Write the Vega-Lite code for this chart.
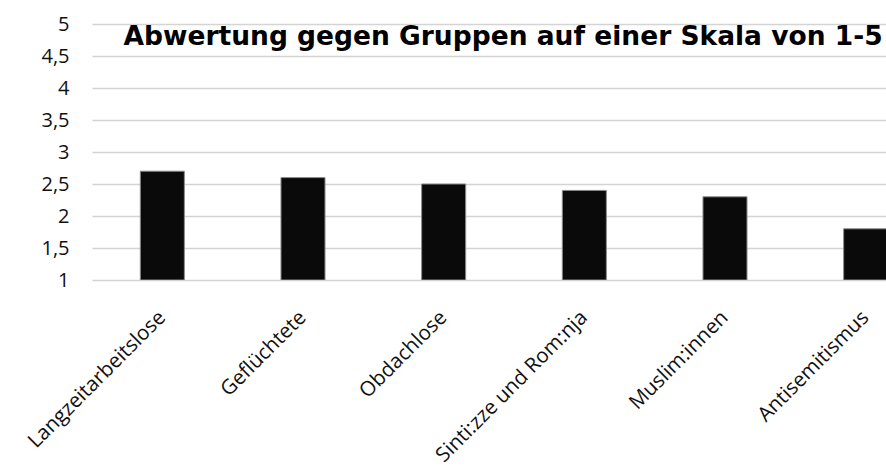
{
  "$schema": "https://vega.github.io/schema/vega-lite/v6.json",
  "width": 794,
  "height": 256,
  "padding": {"left": 0, "top": 14, "right": 0, "bottom": 0},
  "background": "white",
  "data": {
    "values": [
      {"Gruppe": "Langzeitarbeitslose", "Wert": 2.7},
      {"Gruppe": "Geflüchtete", "Wert": 2.6},
      {"Gruppe": "Obdachlose", "Wert": 2.5},
      {"Gruppe": "Sinti:zze und Rom:nja", "Wert": 2.4},
      {"Gruppe": "Muslim:innen", "Wert": 2.3},
      {"Gruppe": "Antisemitismus", "Wert": 1.8}
    ]
  },
  "encoding": {
    "x": {
      "field": "Gruppe",
      "type": "nominal",
      "sort": null,
      "scale": {"range": [0, 844], "paddingInner": 0.687, "paddingOuter": 0.3435},
      "axis": {
        "title": null,
        "labelAngle": -45,
        "labelFont": "Open Sans",
        "labelFontSize": 20.5,
        "labelColor": "#111111",
        "labelPadding": 34,
        "labelBaseline": "middle",
        "labelLimit": 0,
        "ticks": false,
        "domain": false,
        "grid": false
      }
    },
    "y": {
      "field": "Wert",
      "type": "quantitative",
      "scale": {"domain": [1, 5], "zero": false, "nice": false},
      "axis": {
        "title": null,
        "values": [1, 1.5, 2, 2.5, 3, 3.5, 4, 4.5, 5],
        "labelExpr": "replace(format(datum.value, ''), '.', ',')",
        "labelFont": "Open Sans",
        "labelFontSize": 20,
        "labelColor": "#111111",
        "labelPadding": 23,
        "ticks": false,
        "domain": false,
        "grid": true,
        "gridColor": "#d4d4d4",
        "gridWidth": 1.3,
        "minExtent": 92,
        "maxExtent": 92
      }
    }
  },
  "layer": [
    {
      "mark": {"type": "bar", "color": "#0a0a0a", "stroke": "#8a8a8a", "strokeWidth": 1, "clip": true},
      "encoding": {
        "y2": {"datum": 1}
      }
    },
    {
      "data": {"values": [{"Titel": "Abwertung gegen Gruppen auf einer Skala von 1-5", "Gruppe": "Antisemitismus", "Wert": 4.67}]},
      "mark": {
        "type": "text",
        "align": "right",
        "baseline": "alphabetic",
        "font": "DejaVu Sans",
        "fontWeight": "bold",
        "fontSize": 26.5,
        "color": "#000000",
        "dx": 17
      },
      "encoding": {
        "text": {"field": "Titel"}
      }
    }
  ],
  "config": {"view": {"stroke": null}}
}
